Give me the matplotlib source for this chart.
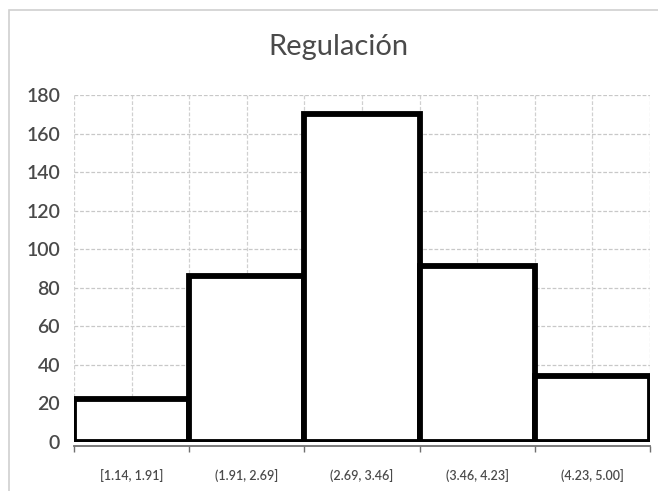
import numpy as np
import matplotlib
matplotlib.use("Agg")
import matplotlib.pyplot as plt
from matplotlib.patches import Rectangle

# histogram bins and counts
bins = ["[1.14, 1.91]", "(1.91, 2.69]", "(2.69, 3.46]", "(3.46, 4.23]", "(4.23, 5.00]"]
counts = [22, 86, 170, 91, 34]
title = "Regulación"

plt.rcParams['font.family'] = ['Lato', 'DejaVu Sans']
grey = "#4a4a4a"

fig = plt.figure(figsize=(6.58, 4.91), dpi=100)
ax = fig.add_axes([74/658, 49.3/491, 576/658, 346.7/491])

x = np.arange(len(bins))
ax.bar(x, counts, width=1.0, facecolor="white", edgecolor="black", linewidth=4.2, zorder=3)

ax.set_xlim(-0.5, len(bins) - 0.5)
ax.set_ylim(0, 180)
ax.set_yticks(np.arange(0, 181, 20))
ax.set_xticks(x)
ax.set_xticklabels(bins)
ax.set_xticks(np.arange(-0.5, len(bins), 0.5), minor=True)

# dashed grid, vertical lines every half bin
for y in np.arange(20, 181, 20):
    ax.axhline(y, color="#c8c8c8", lw=0.9, ls=(0, (3, 1.5)), zorder=1)
for xv in np.arange(-0.5, len(bins), 0.5):
    ax.axvline(xv, color="#d0d0d0", lw=0.9, ls=(0, (3, 1.5)), zorder=1)

for s in ["left", "right", "top"]:
    ax.spines[s].set_visible(False)
ax.spines["bottom"].set_position(("outward", 3))
ax.spines["bottom"].set_color("#6f6f6f")
ax.spines["bottom"].set_linewidth(1.3)

ax.tick_params(axis="y", length=0, pad=10, labelsize=14, labelcolor=grey)
ax.tick_params(axis="x", which="major", length=0, pad=17, labelsize=9, labelcolor=grey)
ax.tick_params(axis="x", which="minor", length=4, color="#6f6f6f", width=1)
for lbl in ax.get_yticklabels() + ax.get_xticklabels():
    lbl.set_fontweight("semibold")

fig.text(338/658, 1 - 47/491, title, ha="center", va="center", fontsize=21, color=grey)

# chart frame
fig.patches.append(Rectangle((9/658, -0.1), 1.2, 1 - 10/491 + 0.1, transform=fig.transFigure,
                             fill=False, edgecolor="#d0d0d0", lw=1.2))

fig.savefig("out.png", dpi=100)
